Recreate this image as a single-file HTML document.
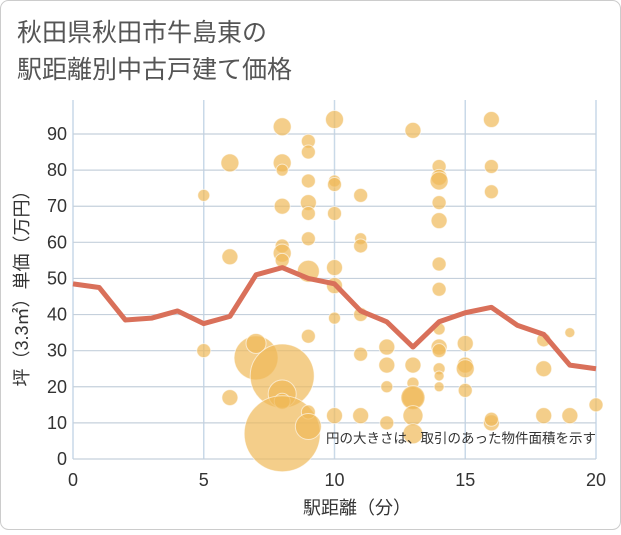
<!DOCTYPE html>
<html><head><meta charset="utf-8"><style>
body{margin:0;background:#fff}
svg text{font-family:"Liberation Sans","Noto Sans CJK JP",sans-serif}
</style></head><body>
<svg width="621" height="530" viewBox="0 0 621 530">
<rect x="0.5" y="0.5" width="620" height="529" rx="8" fill="#fff" stroke="#ccc"/>
<text x="17" y="41" font-size="25" fill="#555">秋田県秋田市牛島東の</text>
<text x="17" y="78" font-size="25" fill="#555">駅距離別中古戸建て価格</text>
<g id="grid"></g>
<g id="bubbles"></g>
<g id="line"></g>
<g id="axes"></g>
<text x="596" y="443" font-size="13.5" fill="#333" text-anchor="end">円の大きさは、取引のあった物件面積を示す</text>
<text x="357" y="514" font-size="18" fill="#333" text-anchor="middle">駅距離（分）</text>
<text transform="translate(28,284) rotate(-90)" font-size="18" fill="#333" text-anchor="middle">坪（3.3㎡）単価（万円）</text>
</svg>
<script>
const xTicks=[0,5,10,15,20];
const yTicks=[0,10,20,30,40,50,60,70,80,90];
const bx=[5,5,6,6,6,7,7,8,8,8,8,8,8,8,8,8,8,8,9,9,9,9,9,9,9,9,9,9,10,10,10,10,10,10,10,10,11,11,11,11,11,11,12,12,12,12,13,13,13,13,13,13,13,14,14,14,14,14,14,14,14,14,14,14,14,14,15,15,15,15,16,16,16,16,16,18,18,18,19,19,20];
const by=[73,30,82,56,17,28,32,92,82,80,70,59,57,55,23,18,16,7,88,85,77,71,68,61,52,34,13,9,94,77,76,68,53,48,39,12,73,61,59,40,29,12,31,26,20,10,91,26,21,17,17,12,7,81,78,77,71,66,54,47,36,31,30,25,23,20,32,26,25,19,94,81,74,10,11,33,25,12,35,12,15];
const bs=[6,7,9,8,8,22,10,9,9,6,8,7,9,7,32,14,8,38,7,7,7,8,7,7,11,7,7,13,9,6,7,7,8,8,6,8,7,6,7,7,7,8,8,8,6,7,8,8,6,11,12,10,10,7,8,9,7,8,7,7,6,8,7,6,5,5,8,8,9,7,8,7,7,8,7,7,8,8,5,8,7];
const lx=[0,1,2,3,4,5,6,7,8,9,10,11,12,13,14,15,16,17,18,19,20];
const ly=[48.5,47.5,38.5,39,41,37.5,39.5,51,53,50,48.5,41,38,31,38,40.5,42,37,34.5,26,25];
const X=v=>73+v*(596-73)/20, Y=v=>459-v*(459-134)/90;
const NS='http://www.w3.org/2000/svg';
function mk(t,a,p){const e=document.createElementNS(NS,t);for(const k in a)e.setAttribute(k,a[k]);p.appendChild(e);return e;}
const g=document.getElementById('grid'),ax=document.getElementById('axes');
for(let v=0;v<=20;v++){const l=mk('line',{x1:X(v),x2:X(v),y1:100,y2:459,stroke:v%5==0?'#c9d9e8':'none','stroke-width':1.5},g);
}
yTicks.forEach(v=>{const l=mk('line',{x1:73,x2:596,y1:Y(v),y2:Y(v),stroke:'#c5d0dc','stroke-width':1.2},g);

const t=mk('text',{x:67,y:Y(v)+6,'font-size':18,fill:'#333','text-anchor':'end'},ax);t.textContent=v;
});
xTicks.forEach(v=>{const t=mk('text',{x:X(v),y:486,'font-size':18,fill:'#333','text-anchor':'middle'},ax);t.textContent=v;
});
const b=document.getElementById('bubbles');
bx.forEach((v,i)=>{const c=mk('circle',{cx:X(v),cy:Y(by[i]),r:bs[i],fill:'#f0b959','fill-opacity':0.7,stroke:'#fff','stroke-opacity':0.6,'stroke-width':1},b);
});
const p=mk('polyline',{points:lx.map((v,i)=>X(v)+','+Y(ly[i])).join(' '),fill:'none',stroke:'#d9705a','stroke-width':5,'stroke-linejoin':'round'},document.getElementById('line'));

</script>
</body></html>
